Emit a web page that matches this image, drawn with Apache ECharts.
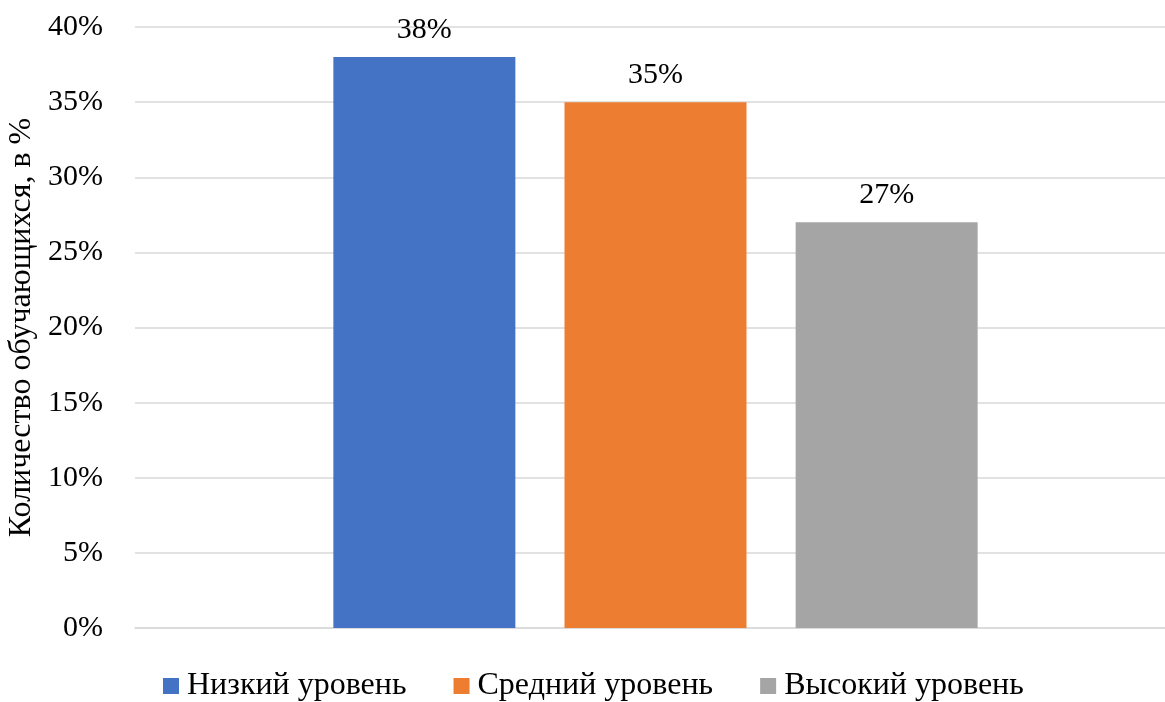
<!DOCTYPE html>
<html>
<head>
<meta charset="utf-8">
<script src="https://cdn.jsdelivr.net/npm/echarts@6/dist/echarts.min.js"></script>
<style>
  html, body { margin: 0; padding: 0; background: #fff; }
  #chart { width: 1165px; height: 702px; }
</style>
</head>
<body>
<div id="chart"></div>
<script>
// Доля обучающихся по уровням
const levelNames = ['Низкий уровень', 'Средний уровень', 'Высокий уровень'];
const levelValues = [38, 35, 27];
const levelColors = ['#4472C4', '#ED7D31', '#A5A5A5'];
const yTicks = [0, 5, 10, 15, 20, 25, 30, 35, 40];
const yAxisTitle = 'Количество обучающихся, в %';

const fontFamily = '"Liberation Serif", "Times New Roman", serif';
const fontSize = 30;
const bigFontSize = 32;

const series = levelNames.map((name, i) => ({
  name: name,
  type: 'bar',
  data: [levelValues[i]],
  barWidth: 182,
  barGap: '27%',
  itemStyle: { color: levelColors[i] },
  label: {
    show: true,
    position: 'top',
    distance: 12,
    formatter: p => p.value + '%',
    color: '#000',
    fontFamily: fontFamily,
    fontSize: fontSize
  }
}));

const chart = echarts.init(document.getElementById('chart'), null, { renderer: 'canvas' });
chart.setOption({
  animation: false,
  textStyle: { fontFamily: fontFamily },
  grid: {
    left: 135, top: 27, width: 1041, bottom: 74,
    containLabel: false,
    outerBoundsMode: 'none'
  },
  legend: {
    top: 670,
    left: 163,
    padding: 0,
    itemWidth: 16,
    itemHeight: 16,
    itemGap: 47,
    icon: 'rect',
    textStyle: { fontFamily: fontFamily, fontSize: bigFontSize, color: '#000', padding: [0, 0, 0, 3] },
    data: levelNames
  },
  xAxis: {
    type: 'category',
    data: [''],
    axisLine: { show: true, lineStyle: { color: '#d9d9d9', width: 1.5 } },
    axisTick: { show: false },
    axisLabel: { show: false }
  },
  yAxis: {
    type: 'value',
    min: yTicks[0],
    max: yTicks[yTicks.length - 1],
    interval: 5,
    name: yAxisTitle,
    nameLocation: 'middle',
    nameGap: 88,
    nameTextStyle: { fontFamily: fontFamily, fontSize: bigFontSize, color: '#000' },
    axisLine: { show: false },
    axisTick: { show: false },
    axisLabel: {
      formatter: v => v + '%',
      fontFamily: fontFamily,
      fontSize: fontSize,
      color: '#000',
      margin: 32
    },
    splitLine: { lineStyle: { color: '#d9d9d9', width: 1.5 } }
  },
  series: series
});
</script>
</body>
</html>
